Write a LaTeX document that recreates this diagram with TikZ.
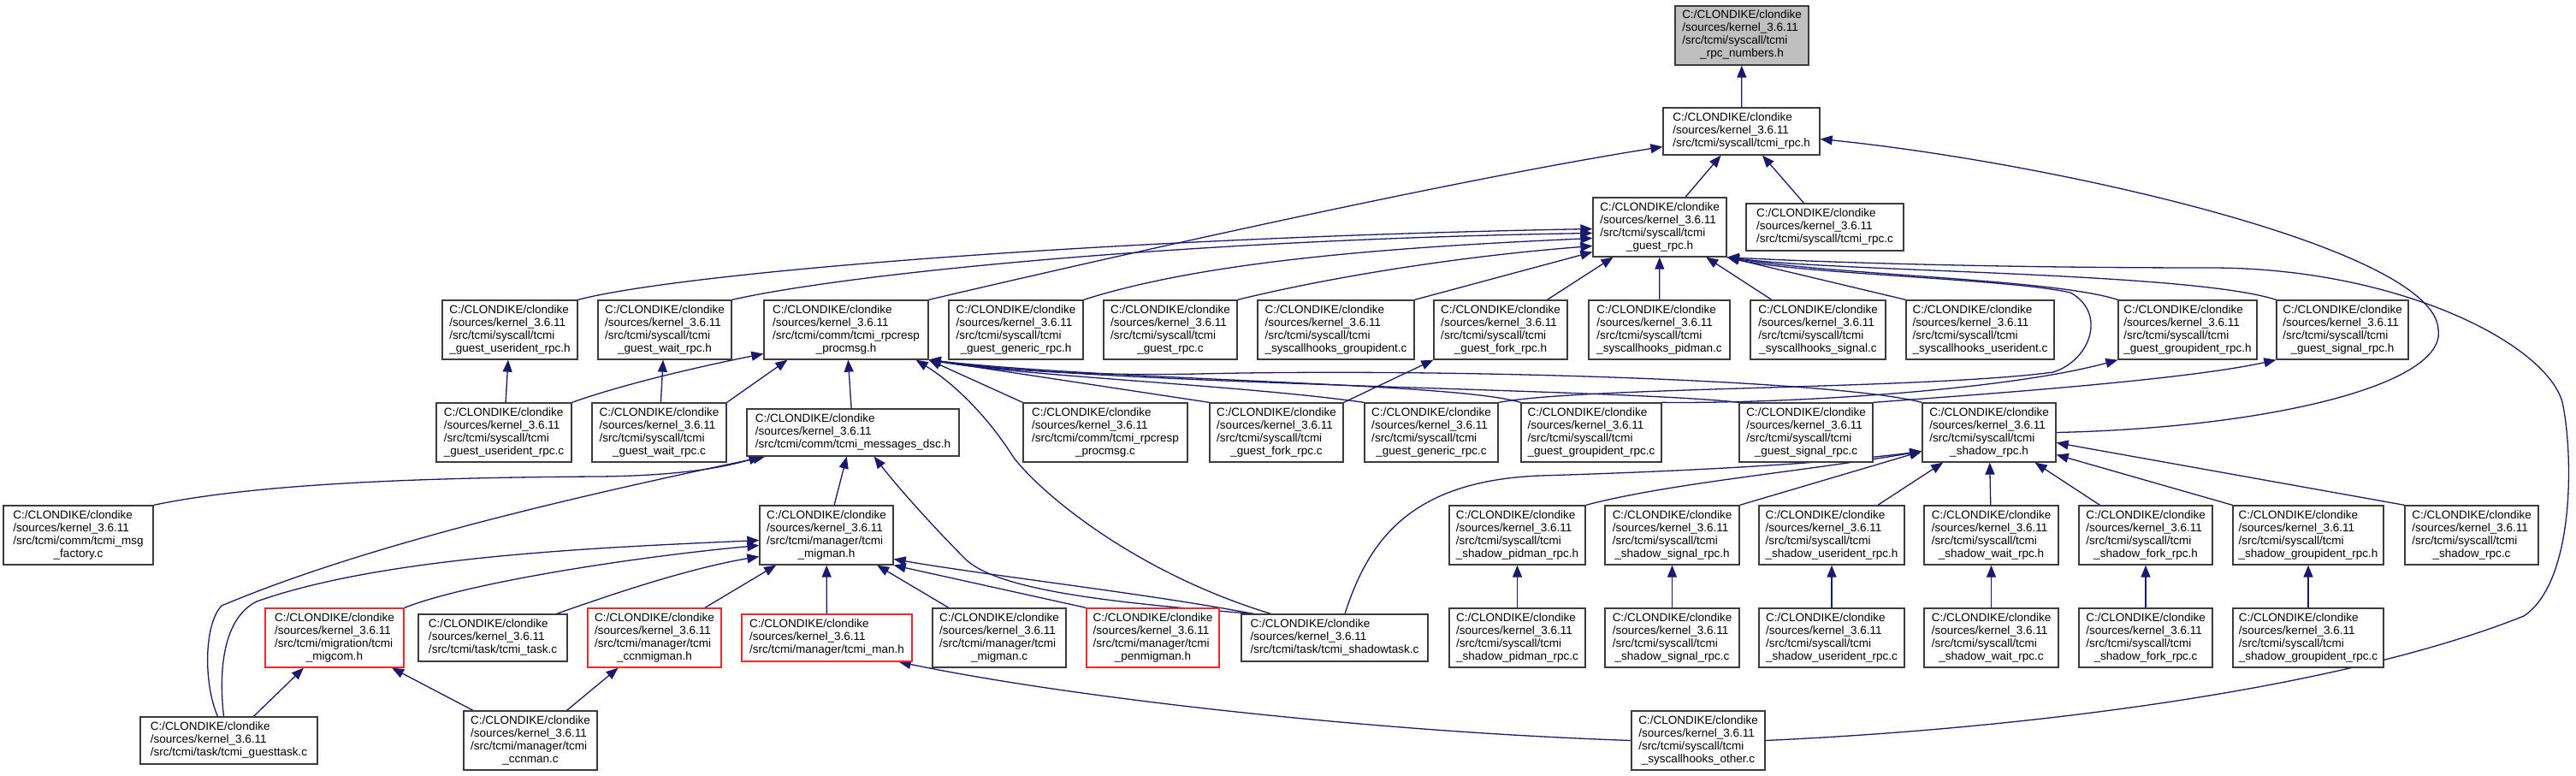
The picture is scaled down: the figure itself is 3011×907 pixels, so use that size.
\documentclass[tikz,border=0pt]{standalone}
\usepackage{fontspec}
\setmainfont{Liberation Sans}
\usetikzlibrary{arrows.meta,backgrounds}
\definecolor{navy}{RGB}{25,25,112}
\definecolor{boxline}{RGB}{60,60,60}
\definecolor{rootgray}{RGB}{191,191,191}
\definecolor{cutred}{RGB}{240,40,40}
\newcommand{\fpath}[2]{\begin{tabular}{@{}l@{}}C:/CLONDIKE/clondike\\/sources/kernel\_3.6.11\\#1\\\multicolumn{1}{@{}c@{}}{#2}\end{tabular}}
\newcommand{\fpathc}[1]{\begin{tabular}{@{}l@{}}C:/CLONDIKE/clondike\\/sources/kernel\_3.6.11\\#1\end{tabular}}
\newcommand{\sysc}[1]{\fpath{/src/tcmi/syscall/tcmi}{#1}}
\tikzset{
  >={Triangle[length=14pt,width=11pt]},
  filebox/.style={draw=boxline,fill=white,line width=1.3pt,inner sep=0pt,
    minimum height=69pt,font=\fontsize{13.5}{15}\selectfont},
  fw/.style={minimum width=#1pt},
  short/.style={minimum height=55pt},
  trunc/.style={draw=cutred},
  root/.style={fill=rootgray},
  dep/.style={->,draw=navy,line width=1.3pt},
}
\begin{document}
\begin{tikzpicture}[x=1pt,y=-1pt]
  \useasboundingbox (0,0) rectangle (3011,907);
  % top of the graph
  \node[filebox,root,fw=156] (nums) at (2036,41.5) {\sysc{\_rpc\_numbers.h}};
  \node[filebox,short,fw=183] (rpch) at (2035.5,153.5) {\fpathc{/src/tcmi/syscall/tcmi\_rpc.h}};
  \node[filebox,fw=156] (grpch) at (1940,265.5) {\sysc{\_guest\_rpc.h}};
  \node[filebox,short,fw=184] (rpcc) at (2133,265.5) {\fpathc{/src/tcmi/syscall/tcmi\_rpc.c}};
  % guest headers and hooks
  \node[filebox,fw=158] (gurh) at (596,385.5) {\sysc{\_guest\_userident\_rpc.h}};
  \node[filebox,fw=156] (gwh) at (777,385.5) {\sysc{\_guest\_wait\_rpc.h}};
  \node[filebox,fw=192] (prh) at (989,385.5) {\fpath{/src/tcmi/comm/tcmi\_rpcresp}{\_procmsg.h}};
  \node[filebox,fw=157] (ggenh) at (1187.5,385.5) {\sysc{\_guest\_generic\_rpc.h}};
  \node[filebox,fw=156] (grpcc) at (1368,385.5) {\sysc{\_guest\_rpc.c}};
  \node[filebox,fw=183] (hgrp) at (1561.5,385.5) {\sysc{\_syscallhooks\_groupident.c}};
  \node[filebox,fw=156] (gfh) at (1754,385.5) {\sysc{\_guest\_fork\_rpc.h}};
  \node[filebox,fw=165] (hpid) at (1939.5,385.5) {\sysc{\_syscallhooks\_pidman.c}};
  \node[filebox,fw=158] (hsig) at (2125,385.5) {\sysc{\_syscallhooks\_signal.c}};
  \node[filebox,fw=173] (huid) at (2314.5,385.5) {\sysc{\_syscallhooks\_userident.c}};
  \node[filebox,fw=162] (ggrh) at (2557,385.5) {\sysc{\_guest\_groupident\_rpc.h}};
  \node[filebox,fw=154] (gsigh) at (2738,385.5) {\sysc{\_guest\_signal\_rpc.h}};
  % guest sources
  \node[filebox,fw=158] (gurc) at (589,505.5) {\sysc{\_guest\_userident\_rpc.c}};
  \node[filebox,fw=157] (gwc) at (770.5,505.5) {\sysc{\_guest\_wait\_rpc.c}};
  \node[filebox,short,fw=248] (dsc) at (997,505.5) {\fpathc{/src/tcmi/comm/tcmi\_messages\_dsc.h}};
  \node[filebox,fw=192] (prc) at (1292,505.5) {\fpath{/src/tcmi/comm/tcmi\_rpcresp}{\_procmsg.c}};
  \node[filebox,fw=156] (gfc) at (1492,505.5) {\sysc{\_guest\_fork\_rpc.c}};
  \node[filebox,fw=156] (ggenc) at (1673,505.5) {\sysc{\_guest\_generic\_rpc.c}};
  \node[filebox,fw=164] (ggrc) at (1860,505.5) {\sysc{\_guest\_groupident\_rpc.c}};
  \node[filebox,fw=156] (gsigc) at (2111,505.5) {\sysc{\_guest\_signal\_rpc.c}};
  \node[filebox,fw=156] (shh) at (2325,505.5) {\sysc{\_shadow\_rpc.h}};
  % managers and shadow side
  \node[filebox,fw=175] (fact) at (91.5,625.5) {\fpath{/src/tcmi/comm/tcmi\_msg}{\_factory.c}};
  \node[filebox,fw=156] (migh) at (966,625.5) {\fpath{/src/tcmi/manager/tcmi}{\_migman.h}};
  \node[filebox,fw=156] (shc) at (2889,625.5) {\sysc{\_shadow\_rpc.c}};
  \foreach \s/\x/\w in {pidman/1773.5/159,signal/1954.5/157,userident/2141/170,
      wait/2327.5/157,fork/2508/156,groupident/2698/176}{
    \node[filebox,fw=\w] (sh-\s) at (\x,625.5) {\sysc{\_shadow\_\s\_rpc.h}};
    \node[filebox,fw=\w] (sc-\s) at (\x,745.5) {\sysc{\_shadow\_\s\_rpc.c}};
  }
  \node[filebox,trunc,fw=162] (migcom) at (391,745.5) {\fpath{/src/tcmi/migration/tcmi}{\_migcom.h}};
  \node[filebox,short,fw=174] (taskc) at (576,745.5) {\fpathc{/src/tcmi/task/tcmi\_task.c}};
  \node[filebox,trunc,fw=156] (ccnmig) at (765,745.5) {\fpath{/src/tcmi/manager/tcmi}{\_ccnmigman.h}};
  \node[filebox,trunc,short,fw=199] (manh) at (966.5,745.5) {\fpathc{/src/tcmi/manager/tcmi\_man.h}};
  \node[filebox,fw=156] (migc) at (1168,745.5) {\fpath{/src/tcmi/manager/tcmi}{\_migman.c}};
  \node[filebox,trunc,fw=155] (penmig) at (1347.5,745.5) {\fpath{/src/tcmi/manager/tcmi}{\_penmigman.h}};
  \node[filebox,short,fw=218] (shtask) at (1560,745.5) {\fpathc{/src/tcmi/task/tcmi\_shadowtask.c}};
  \node[filebox,short,fw=207] (gtask) at (267.5,865.5) {\fpathc{/src/tcmi/task/tcmi\_guesttask.c}};
  \node[filebox,fw=156] (ccnman) at (620,865.5) {\fpath{/src/tcmi/manager/tcmi}{\_ccnman.c}};
  \node[filebox,fw=156] (hother) at (1985,865.5) {\sysc{\_syscallhooks\_other.c}};

  \begin{scope}[on background layer]
    % into tcmi_rpc_numbers.h and tcmi_rpc.h
    \draw[dep] (rpch) -- (nums);
    \draw[dep] (grpch) -- (rpch);
    \draw[dep] (rpcc) -- (rpch);
    \draw[dep] (prh.north east) .. controls (1300,300) and (1700,210) .. ([yshift=-18pt]rpch.west);
    \draw[dep] (shh.east) .. controls (2650,500) and (2860,450) .. (2850,385)
      .. controls (2845,290) and (2400,190) .. ([yshift=-9pt]rpch.east);
    % into tcmi_guest_rpc.h
    \draw[dep] (gurh.north east) .. controls (800,318) and (1300,278) .. ([yshift=-2pt]grpch.west);
    \draw[dep] (gwh.north east) .. controls (1000,318) and (1400,280) .. ([yshift=-7pt]grpch.west);
    \draw[dep] (ggenh.north east) .. controls (1400,308) and (1600,290) .. ([yshift=-13pt]grpch.west);
    \draw[dep] (grpcc.north east) .. controls (1550,325) and (1700,300) .. ([yshift=-22pt]grpch.west);
    \draw[dep] (hgrp.north east) -- ([yshift=-29pt]grpch.west);
    \draw[dep] (gfh) -- (grpch);
    \draw[dep] (hpid) -- (grpch);
    \draw[dep] (hsig) -- (grpch);
    \draw[dep] (huid.north west) -- (grpch.south east);
    \draw[dep] (ggrh.north west) .. controls (2400,326) and (2150,322) .. (grpch.south east);
    \draw[dep] (gsigh.north west) .. controls (2560,318) and (2150,318) .. (grpch.south east);
    \draw[dep] (ggenc.north east) .. controls (1850,452) and (2250,455) .. (2400,435)
      .. controls (2445,420) and (2462,365) .. (2420,342)
      .. controls (2350,326) and (2100,320) .. (grpch.south east);
    \draw[dep] (hother.east) .. controls (2400,850) and (2750,800) .. (2950,720)
      .. controls (3010,680) and (3008,530) .. (2995,470)
      .. controls (2975,400) and (2800,313) .. (2584,313)
      .. controls (2300,313) and (2100,305) .. (grpch.south east);
    % guest sources to their headers
    \draw[dep] (gurc) -- (gurh);
    \draw[dep] (gwc) -- (gwh);
    \draw[dep] (gfc.north east) -- (gfh.south west);
    \draw[dep] (ggrc.north east) .. controls (2100,472) and (2350,455) .. (ggrh.south west);
    \draw[dep] (gsigc.north east) .. controls (2300,462) and (2550,445) .. (gsigh.south west);
    % into tcmi_rpcresp_procmsg.h
    \draw[dep] (gurc.north east) .. controls (720,452) and (800,432) .. ([yshift=-28pt]prh.west);
    \draw[dep] (gwc.north east) -- ([xshift=28pt]prh.south west);
    \draw[dep] (dsc) -- (prh);
    \draw[dep] ([xshift=35pt]shtask.north west) .. controls (1330,670) and (1220,580) .. (1185,535)
      .. controls (1150,480) and (1110,445) .. ([xshift=-15pt]prh.south east);
    \draw[dep] (prc.north west) -- (prh.south east);
    \draw[dep] (gfc.north west) -- (prh.south east);
    \draw[dep] (ggenc.north west) .. controls (1450,450) and (1200,440) .. (prh.south east);
    \draw[dep] (ggrc.north west) .. controls (1700,447) and (1300,445) .. (prh.south east);
    \draw[dep] (gsigc.north west) .. controls (1900,455) and (1300,450) .. (prh.south east);
    \draw[dep] (shh.north west) .. controls (2150,445) and (1700,430) .. (1400,437)
      .. controls (1250,440) and (1150,430) .. (prh.south east);
    % into tcmi_messages_dsc.h
    \draw[dep] (fact.north east) .. controls (300,565) and (500,558) .. (700,557)
      .. controls (800,556) and (850,545) .. ([xshift=17pt]dsc.south west);
    \draw[dep] ([xshift=-13pt]gtask.north) .. controls (238,800) and (238,730) .. (259,708)
      .. controls (420,640) and (650,585) .. ([xshift=22pt]dsc.south west);
    \draw[dep] (migh) -- (dsc);
    \draw[dep] ([xshift=16pt]shtask.north west) .. controls (1300,705) and (1170,690) .. (1130,655)
      .. controls (1090,615) and (1050,570) .. ([xshift=-100pt]dsc.south east);
    % into tcmi_migman.h
    \draw[dep] ([xshift=-6pt]gtask.north) .. controls (255,780) and (262,722) .. (300,703)
      .. controls (450,650) and (700,640) .. ([yshift=-6pt]migh.west);
    \draw[dep] (migcom.north east) .. controls (550,680) and (750,650) .. ([yshift=-12pt]migh.west);
    \draw[dep] ([xshift=-13pt]taskc.north east) .. controls (700,700) and (800,665) .. ([yshift=-25pt]migh.west);
    \draw[dep] (ccnmig) -- (migh);
    \draw[dep] (manh) -- (migh);
    \draw[dep] (migc) -- (migh);
    \draw[dep] (penmig.north west) -- (migh.south east);
    \draw[dep] ([xshift=14pt]shtask.north west) .. controls (1350,695) and (1150,672) .. ([yshift=-28pt]migh.east);
    % lower managers
    \draw[dep] (gtask) -- (migcom);
    \draw[dep] (ccnman) -- (migcom);
    \draw[dep] (ccnman) -- (ccnmig);
    \draw[dep] (hother.west) .. controls (1600,855) and (1250,815) .. ([xshift=-16pt]manh.south east);
    % into tcmi_shadow_rpc.h
    \draw[dep] ([xshift=12pt]shtask.north) .. controls (1600,630) and (1650,562) .. (1800,556)
      .. controls (2000,550) and (2150,540) .. ([yshift=-22pt]shh.west);
    \draw[dep] (sh-pidman.north east) .. controls (1950,565) and (2100,552) .. ([yshift=-22pt]shh.west);
    \draw[dep] (sh-signal.north east) -- ([yshift=-22pt]shh.west);
    \draw[dep] (sh-userident) -- (shh);
    \draw[dep] (sh-wait) -- (shh);
    \draw[dep] (sh-fork) -- (shh);
    \draw[dep] (sh-groupident.north west) -- ([yshift=-26pt]shh.east);
    \draw[dep] (shc.north west) -- ([yshift=-12pt]shh.east);
    \foreach \s in {pidman,signal,userident,wait,fork,groupident}
      \draw[dep] (sc-\s) -- (sh-\s);
  \end{scope}
\end{tikzpicture}
\end{document}
